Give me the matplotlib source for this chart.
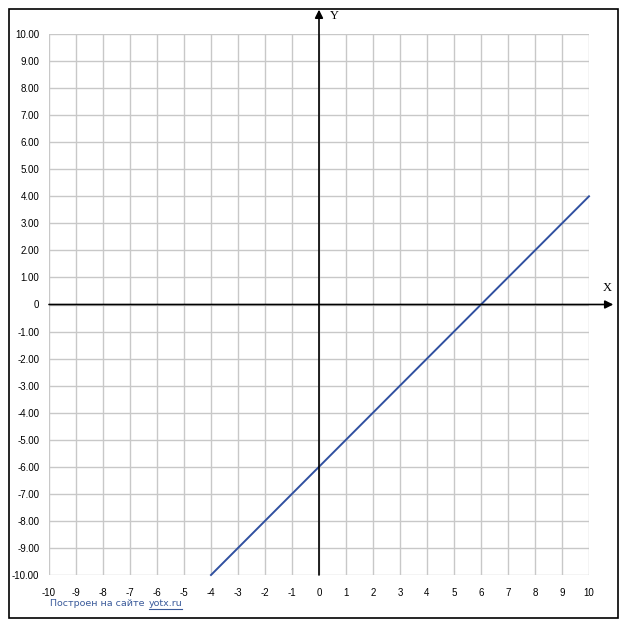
import matplotlib.pyplot as plt
from matplotlib.patches import Rectangle

# данные графика y = x - 6
line_x = [-4, 10]
line_y = [-10, 4]

x_ticks = list(range(-10, 11))
y_ticks = list(range(-10, 11))
y_labels = ["0" if v == 0 else f"{v:.2f}" for v in y_ticks]

W, H = 627, 630
fig = plt.figure(figsize=(W / 100, H / 100), dpi=100)

# рамка вокруг рисунка
fig.patches.append(Rectangle((9 / W, (H - 618) / H), 609 / W, 609 / H,
                             transform=fig.transFigure, fill=False,
                             edgecolor="black", linewidth=1.2))

ax = fig.add_axes([49 / W, (H - 575) / H, 540 / W, 541 / H])
ax.set_xlim(-10, 10)
ax.set_ylim(-10, 10)
for s in ax.spines.values():
    s.set_visible(False)

ax.set_xticks(x_ticks)
ax.set_xticklabels([str(v) for v in x_ticks], fontsize=7, family="Liberation Sans")
ax.set_yticks(y_ticks)
ax.set_yticklabels(y_labels, fontsize=7, family="Liberation Sans")
ax.tick_params(length=0, pad=7)
ax.tick_params(axis="x", pad=9)
ax.grid(True, color="#c8c8c8", linewidth=1.0)
ax.set_axisbelow(True)

# оси со стрелками
ax.annotate("", xy=(10.9, 0), xytext=(-10, 0), annotation_clip=False,
            arrowprops=dict(arrowstyle="-|>", color="black", lw=1.2,
                            mutation_scale=12, shrinkA=0, shrinkB=0))
ax.annotate("", xy=(0, 10.9), xytext=(0, -10), annotation_clip=False,
            arrowprops=dict(arrowstyle="-|>", color="black", lw=1.2,
                            mutation_scale=12, shrinkA=0, shrinkB=0))
ax.text(10.5, 0.5, "X", fontsize=9, family="Liberation Serif", clip_on=False)
ax.text(0.4, 10.55, "Y", fontsize=9, family="Liberation Serif", clip_on=False)

ax.plot(line_x, line_y, color="#3050a0", linewidth=1.4, clip_on=False)

# подпись внизу
t1 = fig.text(50 / W, 1 - 603 / H, "Построен на сайте", fontsize=6.8,
              color="#3a5a9a", family="DejaVu Sans", va="center")
r = fig.canvas.get_renderer()
bb = t1.get_window_extent(renderer=r)
x2 = bb.x1 + 4
t2 = fig.text(x2 / W, 1 - 603 / H, "yotx.ru", fontsize=6.8,
              color="#3a5a9a", family="DejaVu Sans", va="center")
bb2 = t2.get_window_extent(renderer=r)
fig.lines.append(plt.Line2D([bb2.x0 / W, bb2.x1 / W], [1 - 609 / H, 1 - 609 / H],
                            transform=fig.transFigure, color="#3a5a9a", lw=0.8))

fig.savefig("out.png", dpi=100)
